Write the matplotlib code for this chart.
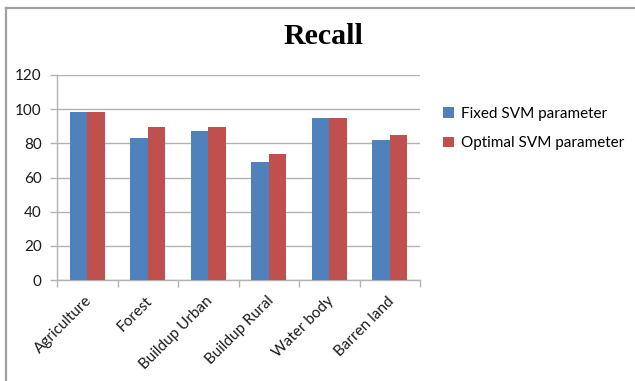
import matplotlib
matplotlib.use("Agg")
import matplotlib.pyplot as plt
from matplotlib.lines import Line2D
from matplotlib.patches import Patch
import numpy as np

categories = ["Agriculture", "Forest", "Buildup Urban", "Buildup Rural", "Water body", "Barren land"]
fixed_svm = [98.2, 83.3, 87.4, 68.9, 94.8, 82.0]
optimal_svm = [98.5, 89.6, 89.6, 74.0, 94.8, 85.1]
series_names = ["Fixed SVM parameter", "Optimal SVM parameter"]
y_ticks = [0, 20, 40, 60, 80, 100, 120]

BLUE = "#4F81BD"
RED = "#C0504D"
GRID = "#B3B3B3"
FONT = "Lato"

W, H = 635, 381
fig = plt.figure(figsize=(W / 100, H / 100), dpi=100)
fig.patch.set_facecolor("white")

# plot area in pixel coordinates
left, right, top, bottom = 57, 420, 75, 280
ax = fig.add_axes([left / W, 1 - bottom / H, (right - left) / W, (bottom - top) / H])

x = np.arange(len(categories))
bw = 1 / 3.5
ax.bar(x - bw / 2, fixed_svm, width=bw, color=BLUE, zorder=3)
ax.bar(x + bw / 2, optimal_svm, width=bw, color=RED, zorder=3)

ax.set_xlim(-0.5, len(categories) - 0.5)
ax.set_ylim(0, 120)
ax.set_yticks(y_ticks)
ax.set_yticklabels([str(v) for v in y_ticks], fontsize=11, family=FONT, color="#1a1a1a")
ax.yaxis.grid(True, color=GRID, linewidth=1.0, zorder=0)
ax.set_axisbelow(True)

# category boundary ticks on the x axis
ax.set_xticks(np.arange(-0.5, len(categories) + 0.5, 1.0))
ax.set_xticklabels([])
ax.tick_params(axis="x", which="major", length=5, color=GRID, width=1)
ax.set_xticks(x - 0.04, minor=True)
ax.set_xticklabels(categories, minor=True, rotation=45, ha="right", va="top",
                   rotation_mode="anchor", fontsize=11, family=FONT, color="#1a1a1a")
ax.tick_params(axis="x", which="minor", length=0, pad=10)
ax.tick_params(axis="y", length=5, color=GRID, width=1, pad=6)

for side in ["top", "right"]:
    ax.spines[side].set_visible(False)
for side in ["left", "bottom"]:
    ax.spines[side].set_color(GRID)
    ax.spines[side].set_linewidth(1.0)

# title
fig.text(323 / W, 1 - 37 / H, "Recall", ha="center", va="center",
         family="Liberation Serif", fontweight="bold", fontsize=21.5, color="black")

# legend
handles = [Patch(facecolor=BLUE, edgecolor="none"), Patch(facecolor=RED, edgecolor="none")]
fig.legend(handles, series_names, loc="upper left", bbox_to_anchor=(443 / W, 1 - 107 / H),
           frameon=False, prop={"family": FONT, "size": 11},
           handlelength=0.7, handleheight=0.7, handletextpad=0.45, labelspacing=1.0,
           borderaxespad=0, borderpad=0)

# outer frame lines along the top and left
fig.add_artist(Line2D([5.5 / W, 1], [1 - 7.5 / H, 1 - 7.5 / H], transform=fig.transFigure,
                      color="#A0A0A0", linewidth=1.6))
fig.add_artist(Line2D([5.5 / W, 5.5 / W], [0, 1 - 7.5 / H], transform=fig.transFigure,
                      color="#A0A0A0", linewidth=1.6))

fig.savefig("out.png", dpi=100, facecolor="white")
